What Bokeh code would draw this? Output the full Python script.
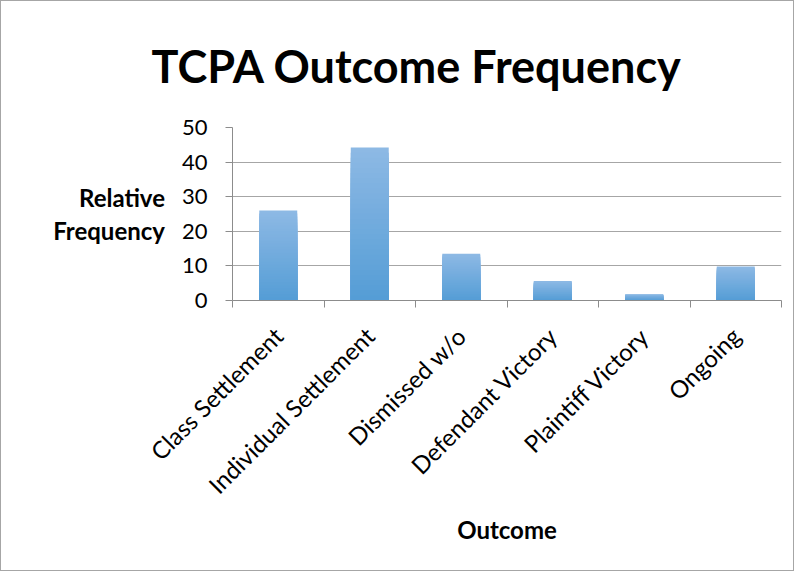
import math
from bokeh.plotting import figure
from bokeh.models import ColumnDataSource, FixedTicker, Range1d, Title
from bokeh.embed import file_html
from bokeh.resources import INLINE

# ---- data ----
categories = ["Class Settlement", "Individual Settlement", "Dismissed w/o",
              "Defendant Victory", "Plaintiff Victory", "Ongoing"]
frequency = [26, 44.2, 13.5, 5.6, 1.8, 9.8]
y_ticks = [0, 10, 20, 30, 40, 50]

title_text = "TCPA Outcome Frequency"
y_label_text = "Relative\nFrequency"
x_label_text = "Outcome"

TOP_COLOR = (0x8d, 0xb9, 0xe4)
BOTTOM_COLOR = (0x55, 0x9d, 0xd6)
FONT = "Lato"

W, H = 794, 571
p = figure(width=W, height=H, output_backend="svg", toolbar_location=None,
           x_range=Range1d(0, len(categories)), y_range=Range1d(0, 50),
           min_border_left=231, min_border_right=14, min_border_top=0,
           min_border_bottom=272, title=None)
p.styles = {"border": "1px solid #a6a6a6"}
p.outline_line_color = None
p.background_fill_color = "white"
p.border_fill_color = "white"

p.add_layout(Title(text=title_text, align="left", offset=-81,
                   text_font=FONT, text_font_style="bold", text_font_size="45px",
                   text_color="black", standoff=70), "above")

centers = [i + 0.5 for i in range(len(categories))]

# gradient bars (light at top, darker at bottom)
N = 30
for k in range(N, 0, -1):
    t = (k - 1) / (N - 1)
    col = tuple(int(round(BOTTOM_COLOR[j] + (TOP_COLOR[j] - BOTTOM_COLOR[j]) * t)) for j in range(3))
    colhex = "#%02x%02x%02x" % col
    src = ColumnDataSource(dict(x=centers, top=[v * k / N for v in frequency]))
    p.vbar(x="x", top="top", bottom=0, width=0.415, source=src,
           fill_color=colhex, line_color=None)

# y axis
p.yaxis.ticker = FixedTicker(ticks=y_ticks)
p.yaxis.axis_line_color = "#8c8c8c"
p.yaxis.major_tick_line_color = "#8c8c8c"
p.yaxis.major_tick_out = 7
p.yaxis.major_tick_in = 0
p.yaxis.minor_tick_line_color = None
p.yaxis.major_label_text_font = FONT
p.yaxis.major_label_text_font_size = "22px"
p.yaxis.major_label_text_color = "black"
p.yaxis.major_label_standoff = 18
p.yaxis.axis_label = y_label_text
p.yaxis.axis_label_orientation = "horizontal"
p.yaxis.axis_label_text_font = FONT
p.yaxis.axis_label_text_font_style = "bold"
p.yaxis.axis_label_text_font_size = "24px"
p.yaxis.axis_label_text_line_height = 1.15
p.yaxis.axis_label_text_color = "black"
p.yaxis.axis_label_standoff = 14

# x axis
p.xaxis.ticker = FixedTicker(ticks=centers, minor_ticks=list(range(len(categories) + 1)))
p.xaxis.major_label_overrides = {c: name for c, name in zip(centers, categories)}
p.xaxis.axis_line_color = "#8c8c8c"
p.xaxis.major_tick_line_color = None
p.xaxis.minor_tick_line_color = "#8c8c8c"
p.xaxis.minor_tick_out = 7
p.xaxis.minor_tick_in = 0
p.xaxis.major_label_orientation = math.pi / 4
p.xaxis.major_label_text_font = FONT
p.xaxis.major_label_text_font_size = "24px"
p.xaxis.major_label_text_color = "black"
p.xaxis.major_label_standoff = 24
p.xaxis.axis_label = x_label_text
p.xaxis.axis_label_text_font = FONT
p.xaxis.axis_label_text_font_style = "bold"
p.xaxis.axis_label_text_font_size = "24px"
p.xaxis.axis_label_text_color = "black"
p.xaxis.axis_label_standoff = 3

p.xgrid.grid_line_color = None
p.ygrid.grid_line_color = "#a6a6a6"
p.ygrid.ticker = FixedTicker(ticks=y_ticks)

open("out.html", "w").write(file_html(p, INLINE))
